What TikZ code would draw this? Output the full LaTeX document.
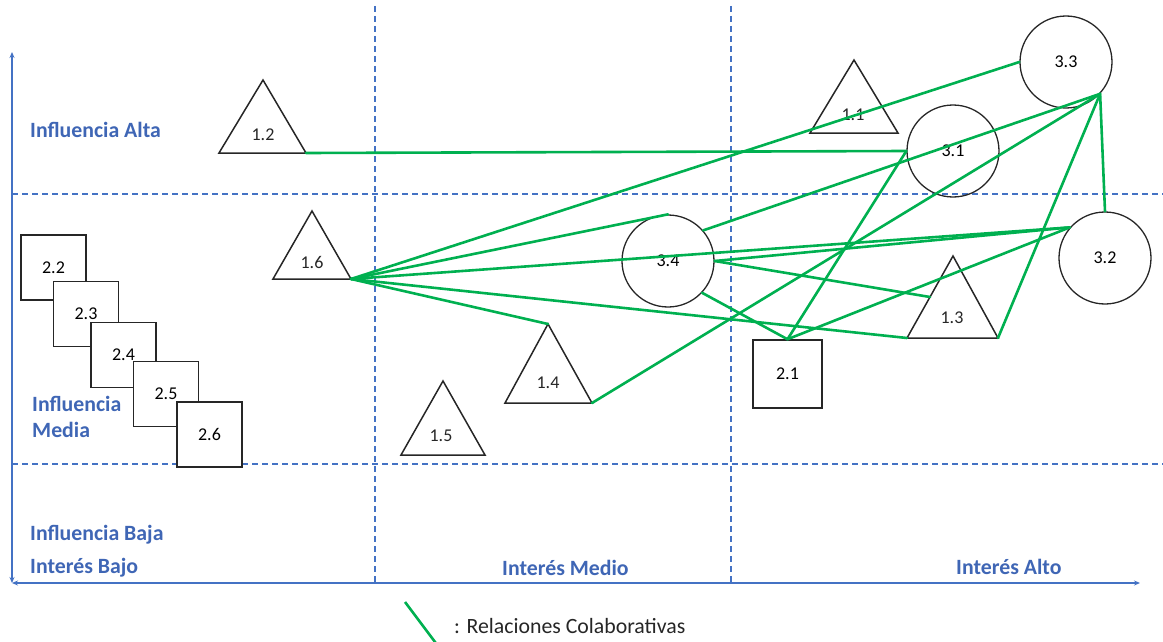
\documentclass[tikz,border=0pt]{standalone}
\usepackage{fontspec}
\setmainfont{Carlito}
\usetikzlibrary{calc,arrows.meta}
\definecolor{axisblue}{HTML}{4472C4}
\definecolor{labelblue}{HTML}{3F66B5}
\definecolor{relgreen}{HTML}{00B050}
\definecolor{shapeline}{HTML}{262626}
\begin{document}
\begin{tikzpicture}[x=1pt,y=-1pt,
  gridline/.style={axisblue, line width=1.1pt, dash pattern=on 6pt off 4pt},
  axisline/.style={axisblue, line width=1.2pt, {Stealth[length=6pt,width=5pt]}-{Stealth[length=6pt,width=5pt]}},
  zone/.style={labelblue, font=\fontsize{21.8}{26}\selectfont\bfseries, anchor=base west, inner sep=0pt},
  tri/.style={draw=shapeline, line width=1.5pt, line join=miter},
  lbl/.style={font=\fontsize{18}{21}\selectfont, text=shapeline, inner sep=0pt},
  sq/.style={draw=shapeline, line width=1.5pt, fill=white, minimum size=65pt, inner sep=0pt, font=\fontsize{18}{21}\selectfont},
  circ/.style={draw=shapeline, line width=1.3pt, circle, minimum size=92pt, inner sep=0pt, font=\fontsize{18}{21}\selectfont},
  rel/.style={relgreen, line width=2.6pt, line cap=round, line join=round}
]
\useasboundingbox (0,0) rectangle (1163,642);
\clip (0,0) rectangle (1163,642);

% grid
\draw[gridline] (12,194) -- (1163,194);
\draw[gridline] (12,464) -- (1163,464);
\draw[gridline] (375,6) -- (375,583);
\draw[gridline] (731,6) -- (731,583);

% axes
\coordinate (ax0) at (12,583);
\coordinate (axtop) at (12,52);
\coordinate (axright) at (1140,583);
\draw[axisline] (ax0) -- (axtop);
\draw[axisline] (ax0) -- (axright);

% zone labels
\node[zone] (lalta) at (30,138) {Influencia Alta};
\node[zone] (lmedia1) at (32,411) {Influencia};
\node[zone] (lmedia2) at (32,437) {Media};
\node[zone] (lbaja) at (30,540) {Influencia Baja};
\node[zone] (ibajo) at (30,573) {Interés Bajo};
\node[zone] (imedio) at (502,575) {Interés Medio};
\node[zone] (ialto) at (956,574) {Interés Alto};

% triangles
\coordinate (t12a) at (263,80);  \coordinate (t12l) at (219,153); \coordinate (t12r) at (306,153);
\coordinate (t16a) at (312,211); \coordinate (t16l) at (273,279); \coordinate (t16r) at (351,279);
\coordinate (t11a) at (854,60);  \coordinate (t11l) at (810,133); \coordinate (t11r) at (898,133);
\coordinate (t13a) at (953,256); \coordinate (t13l) at (907,338); \coordinate (t13r) at (998,338);
\coordinate (t14a) at (548,324); \coordinate (t14l) at (505,403); \coordinate (t14r) at (592,403);
\coordinate (t15a) at (443,381); \coordinate (t15l) at (401,455); \coordinate (t15r) at (485,455);
\coordinate (t13m) at ($(t13l)!0.5!(t13a)$);
\foreach \t in {12,16,11,13,14,15}{
  \draw[tri] (t\t a) -- (t\t l) -- (t\t r) -- cycle;
}
\node[lbl] (n12) at (263,135) {1.2};
\node[lbl] (n16) at (312,262) {1.6};
\node[lbl] (n11) at (853,115) {1.1};
\node[lbl] (n13) at (952,318) {1.3};
\node[lbl] (n14) at (548,383) {1.4};
\node[lbl] (n15) at (441,436) {1.5};

% squares
\node[sq] (s22) at (53.5,267.5) {2.2};
\node[sq] (s23) at (86,314) {2.3};
\node[sq] (s24) at (123.5,355) {2.4};
\node[sq] (s25) at (166,394) {2.5};
\node[sq] (s26) at (209.5,434.5) {2.6};
\node[sq, minimum width=69pt, minimum height=68pt] (s21) at (787.5,374) {2.1};

% circles
\node[circ] (c33) at (1066,62) {3.3};
\node[circ] (c31) at (953,151) {3.1};
\node[circ] (c32) at (1105,258) {3.2};
\node[circ] (c34) at (668,261) {3.4};

% relations
\draw[rel] (t12r) -- (c31.west);
\draw[rel] (t16r) -- (c33.west);
\draw[rel] (t16r) -- (c34.north);
\draw[rel] (t16r) -- (c32.139);
\draw[rel] (t16r) -- (t13l);
\draw[rel] (t16r) -- (t14a);
\draw[rel] (c33.-43) -- (c32.north);
\draw[rel] (c33.-43) -- (t13r);
\draw[rel] (c33.-43) -- (c34.41);
\draw[rel] (c33.-43) -- (t14r);
\draw[rel] (c34.east) -- (c32.139);
\draw[rel] (c34.east) -- (t13m);
\draw[rel] (c34.-43) -- (s21.north);
\draw[rel] (s21.north) -- (c31.west);
\draw[rel] (s21.north) -- (c32.139);

% legend
\coordinate (lg1) at (405,602);
\coordinate (lg2) at (438,646);
\draw[rel, line cap=butt] (lg1) -- (lg2);
\node[font=\fontsize{21.8}{26}\selectfont, anchor=base west, inner sep=0pt, text=shapeline] (leg) at (454,633) {: Relaciones Colaborativas};
\end{tikzpicture}
\end{document}
